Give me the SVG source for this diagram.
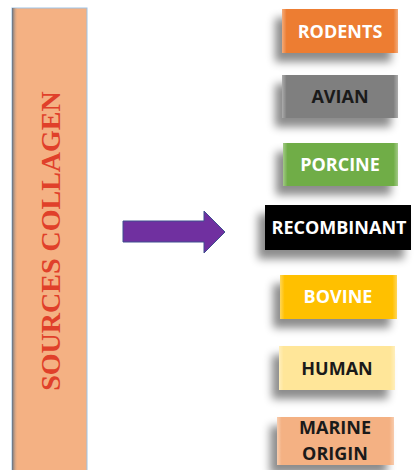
<svg xmlns="http://www.w3.org/2000/svg" width="417" height="470" viewBox="0 0 417 470">
<defs>
<filter id="sh" x="-30%" y="-40%" width="160%" height="200%">
<feDropShadow dx="-7" dy="9" stdDeviation="4" flood-color="#000" flood-opacity="0.45"/>
</filter>
<linearGradient id="edge" x1="0" y1="0" x2="1" y2="0">
<stop offset="0" stop-color="#fff" stop-opacity="0.35"/>
<stop offset="0.04" stop-color="#fff" stop-opacity="0"/>
<stop offset="0.96" stop-color="#fff" stop-opacity="0"/>
<stop offset="1" stop-color="#fff" stop-opacity="0.35"/>
</linearGradient>
<linearGradient id="barsh" x1="0" y1="0" x2="1" y2="0">
<stop offset="0" stop-color="#5f6f80"/>
<stop offset="1" stop-color="#F4B183" stop-opacity="0"/>
</linearGradient>
</defs>
<style>
.lbl{font-family:"Open Sans","Liberation Sans",sans-serif;font-weight:bold;font-size:18px;text-anchor:middle}
.w{fill:#ffffff}
.d{fill:#1a1a1a}
.bx{filter:url(#sh)}
</style>
<rect width="417" height="470" fill="#ffffff"/>
<g id="sources">
<rect x="12" y="8" width="75" height="470" fill="#F4B183" stroke="#9dc3e6" stroke-width="1"/>
<rect x="12" y="8" width="6" height="470" fill="url(#barsh)"/>
<text x="0" y="0" transform="translate(60,241) rotate(-90)" font-family="'Liberation Serif',serif" font-weight="bold" font-size="28" fill="#E0402A" text-anchor="middle">SOURCES COLLAGEN</text>
</g>
<g id="connectors">
<path d="M123,221 L204,221 L204,211 L225,232 L204,253 L204,242 L123,242 Z" fill="#7030A0" stroke="#3f4f8f" stroke-width="1"/>
</g>
<g id="rodents">
<rect class="bx" x="282" y="9" width="116" height="44" fill="#ED7D31"/>
<rect x="282" y="9" width="116" height="44" fill="url(#edge)"/>
<text class="lbl w" x="340" y="38">RODENTS</text>
</g>
<g id="avian">
<rect class="bx" x="282" y="75" width="116" height="43" fill="#7F7F7F"/>
<rect x="282" y="75" width="116" height="43" fill="url(#edge)"/>
<text class="lbl d" x="340" y="103">AVIAN</text>
</g>
<g id="porcine">
<rect class="bx" x="283" y="143" width="115" height="43" fill="#70AD47"/>
<rect x="283" y="143" width="115" height="43" fill="url(#edge)"/>
<text class="lbl w" x="340" y="171">PORCINE</text>
</g>
<g id="recombinant">
<rect class="bx" x="265" y="205" width="146" height="45" fill="#000000"/>
<text class="lbl w" x="339" y="234">RECOMBINANT</text>
</g>
<g id="bovine">
<rect class="bx" x="280" y="275" width="117" height="44" fill="#FFC000"/>
<rect x="280" y="275" width="117" height="44" fill="url(#edge)"/>
<text class="lbl w" x="338" y="303">BOVINE</text>
</g>
<g id="human">
<rect class="bx" x="279" y="346" width="116" height="44" fill="#FFE699"/>
<rect x="279" y="346" width="116" height="44" fill="url(#edge)"/>
<text class="lbl d" x="337" y="375">HUMAN</text>
</g>
<g id="marine">
<rect class="bx" x="277" y="417" width="117" height="48" fill="#F4B183"/>
<rect x="277" y="417" width="117" height="48" fill="url(#edge)"/>
<text class="lbl d" x="335" y="434">MARINE</text>
<text class="lbl d" x="335" y="460">ORIGIN</text>
</g>
</svg>
